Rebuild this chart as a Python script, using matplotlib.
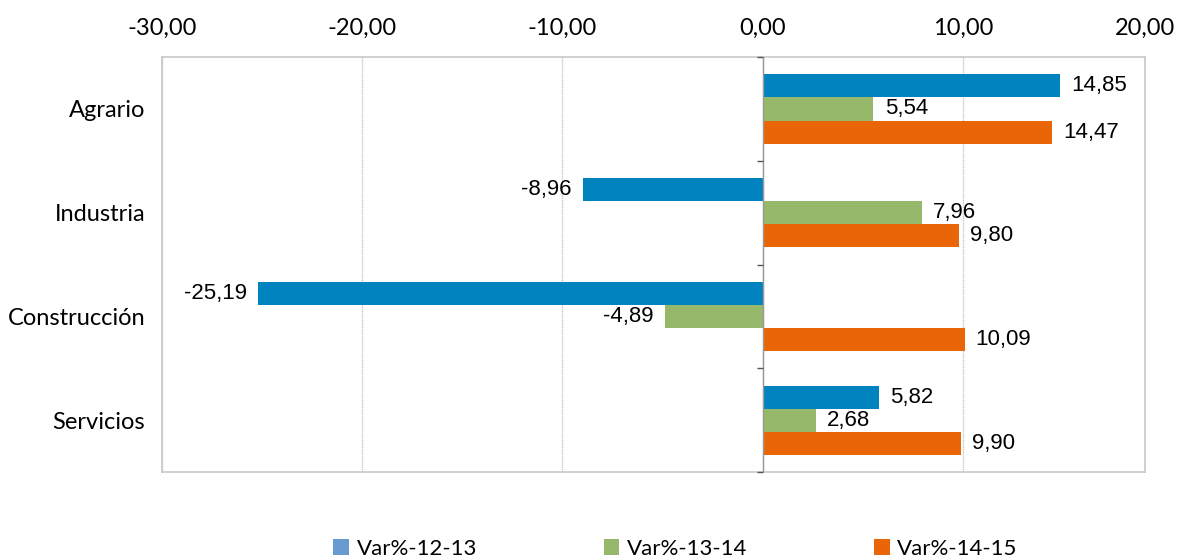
import numpy as np
import matplotlib
matplotlib.use('Agg')
import matplotlib.pyplot as plt
from matplotlib.patches import Patch

# === Data ===
sectores = ['Agrario', 'Industria', 'Construcción', 'Servicios']
var_12_13 = [14.85, -8.96, -25.19, 5.82]
var_13_14 = [5.54, 7.96, -4.89, 2.68]
var_14_15 = [14.47, 9.80, 10.09, 9.90]
series_names = ['Var%-12-13', 'Var%-13-14', 'Var%-14-15']
x_ticks = [-30, -20, -10, 0, 10, 20]

bar_colors = ['#0083BE', '#95B86B', '#EA6508']
legend_colors = ['#6A9BD0', '#95B86B', '#EA6508']

plt.rcParams['font.family'] = ['Lato', 'DejaVu Sans']

fig = plt.figure(figsize=(11.81, 5.6), dpi=100)
ax = fig.add_axes([0.137, 0.157, 0.9695 - 0.137, 0.898 - 0.157])

y = np.arange(len(sectores))
h = 0.222
for i, vals in enumerate([var_12_13, var_13_14, var_14_15]):
    bars = ax.barh(y + (i - 1) * h, vals, height=h, color=bar_colors[i], zorder=3)
    labels = [f'{v:.2f}'.replace('.', ',') for v in vals]
    ax.bar_label(bars, labels=labels, padding=8, fontsize=16,
                 family='Liberation Sans', color='black', zorder=4)

# axes limits (Excel puts the 20,00 label at the plot edge)
right_edge = 19.1
ax.set_xlim(x_ticks[0], right_edge)
ax.set_ylim(len(sectores) - 0.5, -0.5)

tick_pos = x_ticks[:-1] + [right_edge]
ax.set_xticks(tick_pos)
ax.set_xticklabels([f'{t:.2f}'.replace('.', ',') for t in x_ticks], fontsize=17)
ax.xaxis.tick_top()
ax.tick_params(axis='x', length=0, pad=13)

ax.set_yticks(y)
ax.set_yticklabels(sectores, fontsize=17)
ax.tick_params(axis='y', length=0, pad=12)

# gridlines and frame
ax.grid(axis='x', color='#C8C8C8', linestyle=(0, (1, 0.6)), linewidth=1, zorder=0)
for s in ax.spines.values():
    s.set_color('#C8C8C8')
    s.set_linewidth(1.2)

# vertical category axis at zero with tick marks
ax.axvline(0, color='#999999', linewidth=1, zorder=5)
bounds = np.arange(len(sectores) + 1) - 0.5
ax.plot(np.zeros_like(bounds), bounds, linestyle='none', marker=0,
        markersize=4, color='#555555', markeredgewidth=1, clip_on=False, zorder=5)

handles = [Patch(facecolor=c, edgecolor='none') for c in legend_colors]
fig.legend(handles, series_names, loc='center', bbox_to_anchor=(0.572, 0.02),
           ncol=3, frameon=False, fontsize=16, handlelength=0.7, handleheight=0.7,
           handletextpad=0.35, columnspacing=5.7)

fig.savefig('out.png', dpi=100)
